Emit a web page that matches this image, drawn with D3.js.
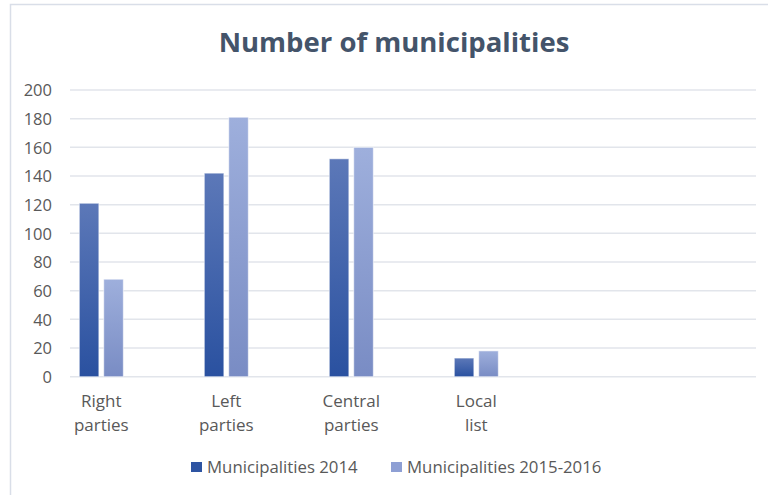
<!DOCTYPE html>
<html>
<head>
<meta charset="utf-8">
<script src="https://cdn.jsdelivr.net/npm/d3@7/dist/d3.min.js"></script>
<style>
  html, body { margin: 0; padding: 0; background: #fff; }
  svg { display: block; font-family: "Open Sans", Lato, sans-serif; }
</style>
</head>
<body>
<svg id="chart" width="768" height="495"></svg>
<script>
// Party groups and their counts of municipalities
const categories = [["Right", "parties"], ["Left", "parties"], ["Central", "parties"], ["Local", "list"]];
const seriesNames = ["Municipalities 2014", "Municipalities 2015-2016"];
const values2014 = [121, 142, 152, 13];
const values20152016 = [68, 181, 160, 18];
const yTicks = [0, 20, 40, 60, 80, 100, 120, 140, 160, 180, 200];

const svg = d3.select("#chart");
const W = 768, H = 495;
const FONT = "'Open Sans', Lato, sans-serif";

// Chart frame
svg.append("rect")
  .attr("x", 10.5).attr("y", 4.5)
  .attr("width", W + 10).attr("height", H + 10)
  .attr("fill", "#fff").attr("stroke", "#D9DEE8").attr("stroke-width", 1.5);

// Gradients for the two series
const defs = svg.append("defs");
const gradSpecs = [
  { id: "g2014", top: "#5C78B8", bottom: "#2A51A0" },
  { id: "g2015", top: "#9EAFDC", bottom: "#798CC4" }
];
gradSpecs.forEach(g => {
  const lg = defs.append("linearGradient").attr("id", g.id)
    .attr("x1", 0).attr("y1", 0).attr("x2", 0).attr("y2", 1);
  lg.append("stop").attr("offset", "0%").attr("stop-color", g.top);
  lg.append("stop").attr("offset", "100%").attr("stop-color", g.bottom);
});

// Title
svg.append("text")
  .attr("x", 394).attr("y", 52)
  .attr("text-anchor", "middle")
  .attr("font-family", FONT)
  .attr("font-size", 27.5).attr("font-weight", 700)
  .attr("fill", "#44546A")
  .text("Number of municipalities");

// Scales
const plotLeft = 70, plotRight = 756;
const y = d3.scaleLinear().domain([0, 200]).range([376.7, 90]);
const catKeys = categories.map(c => c.join(" "));
const x = d3.scaleBand().domain(catKeys).range([38.8, 538.8]).padding(0);
const groupWidth = 44;
const xs = d3.scaleBand().domain(seriesNames)
  .range([0, groupWidth]).paddingInner(0.2).paddingOuter(0);

// Gridlines
svg.append("g")
  .selectAll("line")
  .data(yTicks)
  .join("line")
  .attr("x1", plotLeft).attr("x2", plotRight)
  .attr("y1", d => y(d)).attr("y2", d => y(d))
  .attr("stroke", "#E2E5EB").attr("stroke-width", 1.5);

// Y axis labels
const yAxis = d3.axisLeft(y).tickValues(yTicks).tickSize(0).tickPadding(0);
const yg = svg.append("g").attr("transform", "translate(52,0)").call(yAxis);
yg.select(".domain").remove();
yg.selectAll("text")
  .attr("font-family", FONT)
  .attr("font-size", 16.5).attr("fill", "#595959")
  .attr("dy", "0.35em");

// Bars
const rows = catKeys.map((k, i) => ({ key: k, vals: [values2014[i], values20152016[i]] }));
const groups = svg.append("g").selectAll("g")
  .data(rows)
  .join("g")
  .attr("transform", d => `translate(${x(d.key) + x.bandwidth() / 2 - groupWidth / 2},0)`);
groups.selectAll("rect")
  .data(d => d.vals.map((v, j) => ({ name: seriesNames[j], v, j })))
  .join("rect")
  .attr("x", d => xs(d.name))
  .attr("width", xs.bandwidth())
  .attr("y", d => y(d.v))
  .attr("height", d => y(0) - y(d.v))
  .attr("fill", d => `url(#${gradSpecs[d.j].id})`)
  .attr("stroke", "rgba(255,255,255,0.55)")
  .attr("stroke-width", 1);

// Category labels (two lines each)
const xg = svg.append("g");
categories.forEach((c, i) => {
  const cx = x(catKeys[i]) + x.bandwidth() / 2;
  c.forEach((line, li) => {
    xg.append("text")
      .attr("x", cx).attr("y", 407 + li * 24)
      .attr("text-anchor", "middle")
      .attr("font-family", FONT)
      .attr("font-size", 17).attr("fill", "#595959")
      .text(line);
  });
});

// Legend
const legendColors = ["#2E54A2", "#8E9FD4"];
const legendX = [191, 391];
const lg = svg.append("g");
seriesNames.forEach((n, i) => {
  lg.append("rect")
    .attr("x", legendX[i]).attr("y", 462)
    .attr("width", 11).attr("height", 10)
    .attr("fill", legendColors[i]);
  lg.append("text")
    .attr("x", legendX[i] + 16).attr("y", 473)
    .attr("font-family", FONT)
    .attr("font-size", 16.8).attr("fill", "#595959")
    .text(n);
});
</script>
</body>
</html>
